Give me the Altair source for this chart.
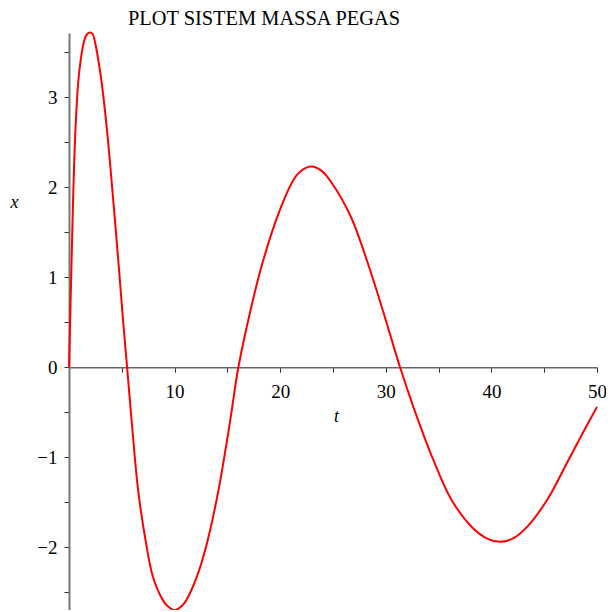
import altair as alt
import pandas as pd

# Values
t_vals = [0.0, 0.25, 0.41, 0.63, 0.94, 1.42, 1.7, 1.98, 2.25, 2.45, 2.99, 3.55, 4.12, 4.65, 5.12, 5.50,
          5.92, 6.54, 7.26, 7.95, 8.9, 9.3, 10.0, 10.7, 11.1, 12.1, 13.05, 14.1, 15.2, 16.04,
          17.2, 18.3, 19.75, 21.2, 21.9, 22.9, 23.9, 24.9, 26.7, 28.4, 29.8, 31.35,
          32.7, 34.5, 36.2, 38.1, 39.6, 40.8, 42.0, 43.4, 45.3, 47.3, 48.7, 50.0]
x_vals = [0.0, 1.21, 1.95, 2.69, 3.25, 3.62, 3.70, 3.72, 3.70, 3.62, 3.25, 2.69, 1.95, 1.21, 0.52, 0.0,
          -0.58, -1.36, -1.93, -2.33, -2.59, -2.65, -2.70, -2.65, -2.59, -2.33, -1.96, -1.40, -0.64, 0.0,
          0.64, 1.15, 1.68, 2.07, 2.175, 2.23, 2.185, 2.045, 1.67, 1.12, 0.60, 0.0,
          -0.47, -1.03, -1.47, -1.77, -1.905, -1.94, -1.905, -1.77, -1.47, -1.03, -0.72, -0.44]

x_tick_values = [0, 5, 10, 15, 20, 25, 30, 35, 40, 45, 50]
y_tick_values = [-2.5, -2, -1.5, -1, -0.5, 0, 0.5, 1, 1.5, 2, 2.5, 3, 3.5]

title_text = "PLOT SISTEM MASSA PEGAS"

df = pd.DataFrame({"t": t_vals, "x": x_vals})
title_df = pd.DataFrame({"label": [title_text]})

W, H = 528, 577
Y_MIN, Y_MAX = -2.697, 3.714
x_axis_offset = -(H * (0 - Y_MIN) / (Y_MAX - Y_MIN))

FONT = "Liberation Serif"

x_axis = alt.Axis(
    orient="bottom", offset=x_axis_offset, values=x_tick_values,
    labelExpr="datum.value % 10 === 0 && datum.value !== 0 ? format(datum.value, 'd') : ''",
    grid=False, tickSize=5, tickColor="#333333", tickWidth=1,
    domainColor="#666666", domainWidth=1.5,
    labelFont=FONT, labelFontSize=19, labelColor="black",
    labelBaseline="alphabetic", labelPadding=25, labelFlush=False,
    title="t", titleFont=FONT, titleFontSize=18, titleFontStyle="italic",
    titleFontWeight="normal", titleColor="black", titleX=267, titleY=54,
    titleBaseline="alphabetic", titleAlign="center", titleAngle=0,
)

y_axis = alt.Axis(
    orient="left", values=y_tick_values,
    labelExpr="datum.value % 1 === 0 ? format(datum.value, 'd') : ''",
    grid=False, tickSize=5, tickColor="#333333", tickWidth=1,
    domainColor="#777777", domainWidth=2,
    labelFont=FONT, labelFontSize=19, labelColor="black",
    labelPadding=7, labelFlush=False,
    title="x", titleFont=FONT, titleFontSize=18, titleFontStyle="italic",
    titleFontWeight="normal", titleColor="black", titleAngle=0,
    titleX=-55, titleY=174, titleBaseline="alphabetic", titleAlign="center",
)

line = alt.Chart(df).mark_line(
    color="#FF0000", strokeWidth=2, interpolate="catmull-rom"
).encode(
    x=alt.X("t:Q", scale=alt.Scale(domain=[0, 50], nice=False, zero=False), axis=x_axis),
    y=alt.Y("x:Q", scale=alt.Scale(domain=[Y_MIN, Y_MAX], nice=False, zero=False), axis=y_axis),
)

title_mark = alt.Chart(title_df).mark_text(
    font=FONT, fontSize=20.4, color="black", align="center", baseline="alphabetic"
).encode(
    text="label:N",
    x=alt.value(264 - 69),
    y=alt.value(-8),
)

chart = alt.layer(line, title_mark).properties(
    width=W, height=H,
    padding={"left": 61, "top": 25, "right": 9, "bottom": 0},
    autosize=alt.AutoSizeParams(type="none"),
    background="white",
).configure_view(stroke=None)

chart.save("out.html", embed_options={"renderer": "svg", "actions": False})
